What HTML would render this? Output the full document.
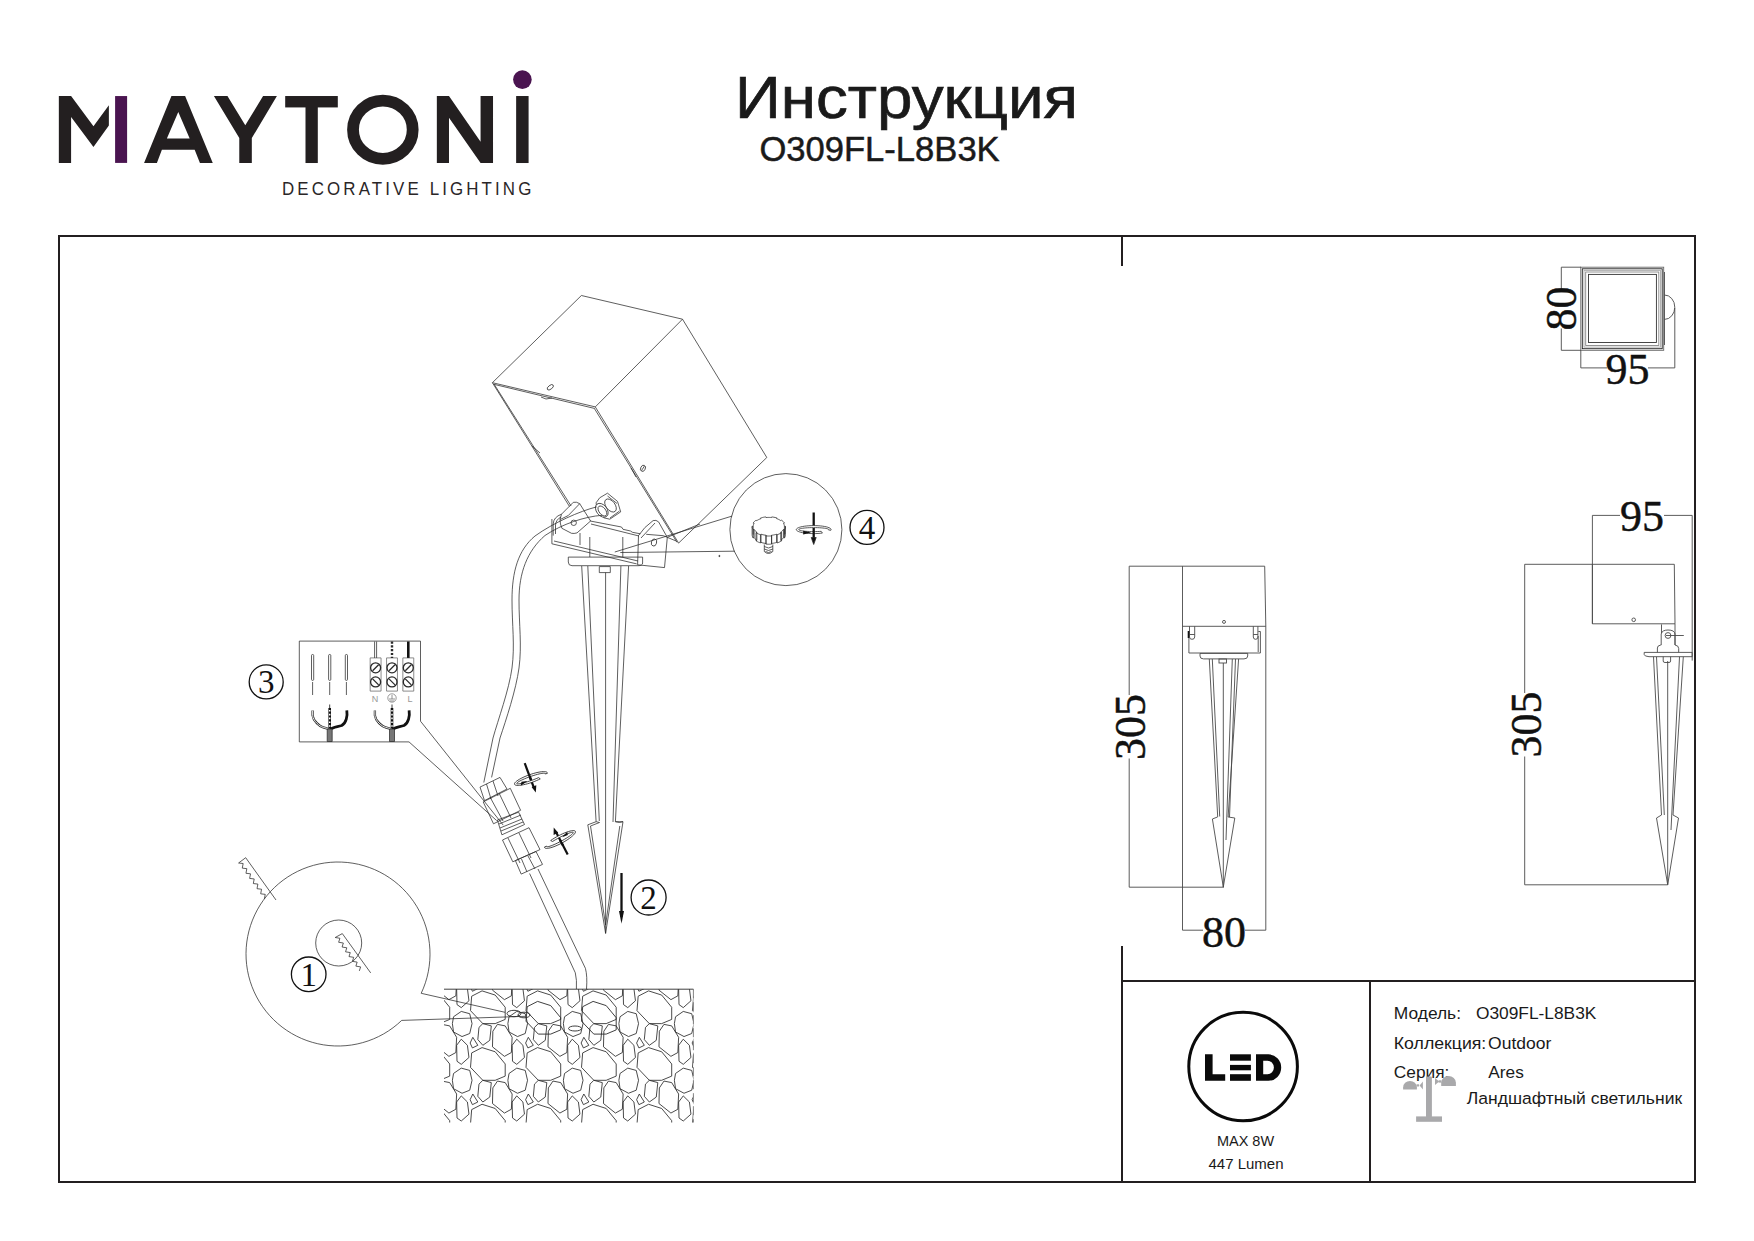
<!DOCTYPE html>
<html><head><meta charset="utf-8">
<style>
html,body{margin:0;padding:0;background:#fff;}
body{width:1754px;height:1241px;overflow:hidden;position:relative;}
svg{position:absolute;left:0;top:0;display:block;}
.sans{font-family:"Liberation Sans",sans-serif;}
.serif{font-family:"Liberation Serif",serif;}
</style></head>
<body>
<svg width="1754" height="1241" viewBox="0 0 1754 1241">
<g fill="#231f20">
<polygon points="58.84,96.06 71.09,96.06 93.47,126.28 108.87,105.32 108.87,125.56 93.47,146.94 71.09,117.01 71.09,162.91 58.84,162.91"/>
<path fill-rule="evenodd" d="M144.07,162.91 L171.44,96.06 L185.12,96.06 L212.77,162.91 L199.94,162.91 L194.67,149.79 L161.89,149.79 L156.90,162.91 Z M166.88,138.39 L178.28,112.02 L189.68,138.39 Z"/>
<polygon points="213.91,96.06 227.45,96.06 245.27,125.28 263.08,96.06 276.91,96.06 251.82,138.11 251.82,162.91 239.28,162.91 239.28,138.11"/>
<rect x="285.19" y="96.02" width="52.62" height="11.41"/>
<rect x="305.5" y="107" width="12.3" height="56.02"/>
<polygon points="436.84,96.02 448.99,96.02 480.57,141.83 480.57,96.02 493.02,96.02 493.02,163.02 480.57,163.02 448.99,117.81 448.99,163.02 436.84,163.02"/>
<rect x="516.14" y="96.02" width="12.45" height="67"/>
</g>
<ellipse cx="382.85" cy="129.7" rx="29.83" ry="29.1" fill="none" stroke="#231f20" stroke-width="11.8"/>
<rect x="115.1" y="96.06" width="12" height="66.85" fill="#4a1450"/>
<circle cx="522.4" cy="79.6" r="9.3" fill="#4a1450"/>
<text class="sans" transform="translate(282 194.6) scale(0.92 1)" x="0" y="0" font-size="18.4" textLength="271" lengthAdjust="spacing" fill="#2a2627">DECORATIVE LIGHTING</text>
<text class="sans" x="735" y="118" font-size="59.5" textLength="343" lengthAdjust="spacingAndGlyphs" fill="#1a1a1a" stroke="#1a1a1a" stroke-width="0.7">Инструкция</text>
<text class="sans" x="759.4" y="160.6" font-size="34.6" textLength="240.3" lengthAdjust="spacingAndGlyphs" fill="#1a1a1a" stroke="#1a1a1a" stroke-width="0.5">O309FL-L8B3K</text>
<g fill="#231f20">
<rect x="58" y="235" width="1638" height="2"/>
<rect x="58" y="1181" width="1638" height="2"/>
<rect x="58" y="235" width="2" height="948"/>
<rect x="1694" y="235" width="2" height="948"/>
<rect x="1121" y="237" width="2" height="29"/>
<rect x="1121" y="946" width="2" height="237"/>
<rect x="1121" y="980" width="575" height="2"/>
<rect x="1369" y="982" width="2" height="201"/>
</g>
<circle cx="1243.1" cy="1066.5" r="54.3" fill="none" stroke="#0a0a0a" stroke-width="3"/>
<g fill="#0a0a0a">
<polygon points="1205,1054.3 1212.6,1054.3 1212.6,1074.2 1225.2,1074.2 1225.2,1080.8 1205,1080.8"/>
<rect x="1230" y="1054.3" width="20.9" height="6.4"/>
<rect x="1230" y="1064.9" width="20.9" height="5.4"/>
<rect x="1230" y="1074.2" width="20.9" height="6.6"/>
<path fill-rule="evenodd" d="M1256,1054.3 H1268.5 A12.7,13.25 0 0 1 1281.2,1067.55 A12.7,13.25 0 0 1 1268.5,1080.8 H1256 Z M1263.2,1060.7 V1074.2 H1267.5 A6.4,6.75 0 0 0 1273.9,1067.45 A6.4,6.75 0 0 0 1267.5,1060.7 Z"/>
</g>
<text class="sans" x="1245.5" y="1146.1" font-size="14.5" text-anchor="middle" fill="#1a1a1a">MAX 8W</text>
<text class="sans" x="1246" y="1169.1" font-size="15" text-anchor="middle" fill="#1a1a1a">447 Lumen</text>
<g class="sans" font-size="16.3" fill="#1a1a1a" lengthAdjust="spacingAndGlyphs">
<text x="1393.8" y="1019.2" textLength="67.2" lengthAdjust="spacingAndGlyphs">Модель:</text>
<text x="1475.9" y="1019.2" textLength="120.5" lengthAdjust="spacingAndGlyphs">O309FL-L8B3K</text>
<text x="1393.8" y="1049.3" textLength="92.5" lengthAdjust="spacingAndGlyphs">Коллекция:</text>
<text x="1488.1" y="1049.3" textLength="63.2" lengthAdjust="spacingAndGlyphs">Outdoor</text>
<text x="1393.8" y="1077.6" textLength="55.5" lengthAdjust="spacingAndGlyphs">Серия:</text>
<text x="1488.3" y="1077.6" textLength="35.5" lengthAdjust="spacingAndGlyphs">Ares</text>
<text x="1466.8" y="1104" textLength="215.3" lengthAdjust="spacingAndGlyphs">Ландшафтный светильник</text>
</g>
<g fill="#a9a9ab">
<rect x="1426" y="1076.4" width="5.9" height="41" rx="0.8"/>
<rect x="1416.1" y="1116.4" width="25.9" height="5.4"/>
<path d="M1403.1,1089.6 V1087.5 A6.9,6.6 0 0 1 1416.9,1087.5 V1089.6 Z"/>
<rect x="1416.5" y="1084.3" width="2.6" height="2.2"/>
<polygon points="1419.6,1085.6 1422.9,1081.4 1422.9,1089.6"/>
<path d="M1441.2,1085.9 V1082.5 A7.35,6.5 0 0 1 1455.9,1082.5 V1085.9 Z"/>
<rect x="1438.6" y="1080.3" width="2.8" height="2.3"/>
<polygon points="1435,1078 1439.2,1081.4 1435,1085.1"/>
</g>
<g fill="none" stroke="#4a4a4a" stroke-width="0.9">
<rect x="1580.8" y="267.2" width="82.9" height="83.1" stroke="#666"/>
<rect x="1582.3" y="268.8" width="79.9" height="79.9" stroke="#222"/>
<rect x="1584" y="270.4" width="76.5" height="76.7" stroke="#aaa"/>
<rect x="1585.7" y="272" width="73.1" height="73.5" stroke="#888"/>
<rect x="1588.5" y="274.4" width="67.9" height="68.1" stroke="#333"/>
<path d="M1664.5,272 V345"/>
<path d="M1664.5,295 A10.3,12.2 0 0 1 1664.5,319.4"/>
<path d="M1581,267.2 H1561.3 V289 M1561.3,328.5 V350.3 H1581"/>
<path d="M1580.8,350.3 V367.9 H1607 M1648,367.9 H1674.8 V308"/>
</g>
<text class="serif" x="1576" y="308.6" font-size="44" text-anchor="middle" fill="#111" stroke="#111" stroke-width="0.45" transform="rotate(-90 1576 308.6)">80</text>
<text class="serif" x="1627.5" y="383.7" font-size="44" text-anchor="middle" fill="#111" stroke="#111" stroke-width="0.45">95</text>
<g fill="none" stroke="#4a4a4a" stroke-width="0.9">
<path d="M1129.2,566.2 H1264.7 M1129.2,566.2 V695 M1129.2,758.5 V887.2 H1224"/>
<path d="M1182.5,566.2 V930.2 H1203 M1245,930.2 H1265.8 V626 L1264.7,566.2"/>
<path d="M1182.5,626.3 H1265.8"/>
<circle cx="1224" cy="621.9" r="1.5"/>
<path d="M1188.9,631 V653 H1260.4 V631.5 M1258.2,636 V652"/>
<path d="M1189.5,626.3 V637 Q1189.5,639.3 1192,639.3 Q1194.7,639.3 1194.7,637 V626.3 M1189.5,634.5 H1194.7 M1253.3,626.3 V637 Q1253.3,639.3 1255.6,639.3 Q1257.9,639.3 1257.9,637 V626.3 M1253.3,634.5 H1257.9 M1258.3,631.5 H1260.4"/>
<path d="M1188.5,631 V638" stroke="#111" stroke-width="1.6"/>
<path d="M1200,653.4 H1247.7 V656 Q1247.7,658.9 1244,658.9 H1203.5 Q1200,658.9 1200,656 Z"/>
<rect x="1219" y="659" width="7.5" height="4"/>
<path d="M1209.3,659 L1217.7,816.9 L1212.4,819 L1223.3,887 L1234.8,818 L1228.1,817 L1238.6,659"/>
<path d="M1212.3,659 L1219.7,816.5 M1232.3,659 L1226,840 M1235.5,659 L1229.5,817 M1223.3,663 V887"/>
</g>
<text class="serif" x="1224" y="946.7" font-size="44" text-anchor="middle" fill="#111" stroke="#111" stroke-width="0.45">80</text>
<text class="serif" x="1144.6" y="726.9" font-size="44" text-anchor="middle" fill="#111" stroke="#111" stroke-width="0.45" transform="rotate(-90 1144.6 726.9)">305</text>
<g fill="none" stroke="#4a4a4a" stroke-width="0.9">
<path d="M1592.4,623.8 V515.4 H1620 M1664,515.4 H1692.2 V660.6"/>
<path d="M1524.7,564.3 H1674.3 L1675,623.8 H1592.4 V564.3"/>
<circle cx="1633.7" cy="619.8" r="1.8"/>
<path d="M1661.5,624.4 V633 M1675,623.8 V645"/>
<path d="M1657.4,652.4 V648 Q1657.4,645.5 1660.5,645.1 L1661.2,645 V634 Q1662,630 1668,630 Q1674.5,630 1675,634 V645 Q1678.7,645.5 1678.7,648.5 V652.4"/>
<circle cx="1668" cy="635.5" r="2.9"/>
<path d="M1666,635.5 H1683.8"/>
<path d="M1644.2,652.4 H1692.2 V656.7 H1649 Q1644.2,656.3 1644.2,654.5 Z"/>
<path d="M1663.2,656.7 V661 Q1663.2,662.5 1665,662.5 H1669 Q1670.6,662.5 1670.6,661 V656.7"/>
<path d="M1653.5,656.8 L1661.5,815 L1656.5,818 L1667.7,884.8 L1678.5,818 L1673,815 L1683.3,656.8"/>
<path d="M1656.5,656.8 L1664.3,815 M1679.5,656.8 L1671,830 M1667.7,661 V884.8"/>
<path d="M1524.7,564.3 V693 M1524.7,756.5 V884.8 H1667.7"/>
</g>
<text class="serif" x="1642" y="531.3" font-size="44" text-anchor="middle" fill="#111" stroke="#111" stroke-width="0.45">95</text>
<text class="serif" x="1541.2" y="724.6" font-size="44" text-anchor="middle" fill="#111" stroke="#111" stroke-width="0.45" transform="rotate(-90 1541.2 724.6)">305</text>
<g fill="none" stroke="#2a2a2a" stroke-width="0.75" stroke-linejoin="round">
<path d="M492.4,382.7 L581.4,295.5 L682.5,319.2 L766.8,457.5 L678.6,543.1"/>
<path d="M682.5,319.2 L595.3,406.9"/>
<path d="M492.4,382.7 L595.3,406.9"/>
<path d="M493.9,384.3 L594.8,408.5"/>
<path d="M595.3,406.9 L678.6,543.1"/>
<path d="M492.4,382.7 L569.5,506.5"/>
<path d="M494.2,384.3 L571.1,506"/>
<path d="M594.5,408.7 L677,542.3"/>
<ellipse cx="550.3" cy="387.3" rx="3.6" ry="1.9" transform="rotate(-38 550.3 387.3)"/>
<ellipse cx="643" cy="468.3" rx="2.3" ry="3.2" transform="rotate(25 643 468.3)"/><path d="M641.5,470.5 L644.5,466"/>
<path d="M541,397 L546,399 L552,398 M532,446 L540,453 M631,468 L636,477"/>
<path d="M561.5,514.2 L573.3,502.3 Q576.5,501.5 579.7,503.7 L590.6,521 L577,532.9 Q574,533.8 571.5,533.3 L561.9,528.3 Q560,524 560,519.6 Z"/>
<path d="M568.3,515.5 L579.7,503.7 M560,519.6 L568.3,515.5"/>
<path d="M553.2,535.6 V524 Q553.5,517 561.5,514.2 M555.5,534 V525 Q556,519.5 561,517"/>
<circle cx="573.7" cy="522.8" r="2.7"/>
<path d="M590.2,521 L621.5,527 L623,529.3 L630.5,531 L632.5,532.3 L640.4,533.8 M591,524 L639,536 M646.2,534.3 L663.3,535.7 L676.4,541.1"/>
<path d="M551.9,519 V543.8 L636.7,563.9 M554,541 L638,561"/>
<path d="M580,533 V545 M589.8,537 V557 M622.8,537 V557"/>
<path d="M653.1,520.6 Q656,519.5 658.6,521.9 L667.3,537.4 L664.5,567.6 L637.6,564.8 L638.5,535.6 Q644,527 653.1,520.6 Z"/>
<path d="M641,538 L655,523"/>
<ellipse cx="654" cy="542.5" rx="2.6" ry="3.6" transform="rotate(15 654 542.5)"/>
<path d="M568.3,557.1 H642.6 V563 Q642.6,565.7 638,565.7 H572 Q568.3,565.7 568.3,562 Z"/>
<rect x="599.3" y="566.6" width="11" height="6"/>
<path d="M668,537 L700,524"/>
<path d="M596.1,502.8 L599.7,497.8 L607.5,493.2 L617.5,501.4 L620.7,511.9 L609.8,519.2 L603.8,517.8 L597,509.6 Z" fill="#fff"/>
<ellipse cx="610.5" cy="505.5" rx="4.5" ry="7.5" transform="rotate(-38 610.5 505.5)"/>
<ellipse cx="601.8" cy="510.3" rx="5.3" ry="7.8" transform="rotate(-38 601.8 510.3)" fill="#fff"/>
<ellipse cx="602.4" cy="511" rx="3.3" ry="5.8" transform="rotate(-38 602.4 511)"/>
<path d="M607.5,496 L617,503.5 M610,518 L619.5,511"/>
<path d="M596.6,506.9 C580,511 553,523 535,536 C518,550 512,572 512,600 C512,625 515,645 512,668 C509,690 498,720 493,738 L483.8,782.5"/>
<path d="M602,515.3 C585,516.5 562,524 545,535.5 C527,551 519,573 519,600 C519,625 522,645 519,668 C516,690 506,720 500,738 L491.6,777.4"/>
<path d="M614.8,552 L732,516.1 M620.3,552.5 L734.8,551.2"/>
<circle cx="719.4" cy="556" r="0.6" fill="#333"/>
<circle cx="785.9" cy="529.6" r="56"/>
<path d="M785.49,526.4 L785.45,527.07 L785.33,527.74 L785.13,528.4 L784.85,529.05 L784.49,529.69 L783.46,529.48 L783.05,530.06 L782.57,530.63 L782.03,531.17 L781.42,531.69 L780.75,532.19 L781.59,532.59 L780.81,533.09 L779.97,533.56 L779.08,533.99 L778.13,534.38 L777.15,534.74 L776.6,534.19 L775.64,534.49 L774.64,534.74 L773.62,534.96 L772.57,535.13 L771.51,535.26 L771.7,535.88 L770.54,535.98 L769.38,536.02 L768.22,536.02 L767.06,535.98 L765.9,535.88 L766.09,535.26 L765.03,535.13 L763.98,534.96 L762.96,534.74 L761.96,534.49 L761,534.19 L760.45,534.74 L759.47,534.38 L758.52,533.99 L757.63,533.56 L756.79,533.09 L756.01,532.59 L756.85,532.19 L756.18,531.69 L755.57,531.17 L755.03,530.63 L754.55,530.06 L754.14,529.48 L753.11,529.69 L752.75,529.05 L752.47,528.4 L752.27,527.74 L752.15,527.07 L752.11,526.4 L753.2,526.4 L753.24,525.77 L753.35,525.15 L753.54,524.53 L753.8,523.92 L754.14,523.32 L753.11,523.11 L753.55,522.48 L754.06,521.88 L754.64,521.3 L755.3,520.74 L756.01,520.21 L756.85,520.61 L757.58,520.15 L758.36,519.71 L759.2,519.31 L760.08,518.94 L761,518.61 L760.45,518.06 L761.48,517.74 L762.55,517.47 L763.64,517.24 L764.76,517.06 L765.9,516.92 L766.09,517.54 L767.17,517.45 L768.26,517.41 L769.34,517.41 L770.43,517.45 L771.51,517.54 L771.7,516.92 L772.84,517.06 L773.96,517.24 L775.05,517.47 L776.12,517.74 L777.15,518.06 L776.6,518.61 L777.52,518.94 L778.4,519.31 L779.24,519.71 L780.02,520.15 L780.75,520.61 L781.59,520.21 L782.3,520.74 L782.96,521.3 L783.54,521.88 L784.05,522.48 L784.49,523.11 L783.46,523.32 L783.8,523.92 L784.06,524.53 L784.25,525.15 L784.36,525.77 L784.4,526.4Z" fill="#fff"/><path d="M785.49,534.6 L785.45,535.27 L785.33,535.94 L785.13,536.6 L784.85,537.25 L784.49,537.89 L783.46,537.68 L783.05,538.26 L782.57,538.83 L782.03,539.37 L781.42,539.89 L780.75,540.39 L781.59,540.79 L780.81,541.29 L779.97,541.76 L779.08,542.19 L778.13,542.58 L777.15,542.94 L776.6,542.39 L775.64,542.69 L774.64,542.94 L773.62,543.16 L772.57,543.33 L771.51,543.46 L771.7,544.08 L770.54,544.18 L769.38,544.22 L768.22,544.22 L767.06,544.18 L765.9,544.08 L766.09,543.46 L765.03,543.33 L763.98,543.16 L762.96,542.94 L761.96,542.69 L761,542.39 L760.45,542.94 L759.47,542.58 L758.52,542.19 L757.63,541.76 L756.79,541.29 L756.01,540.79 L756.85,540.39 L756.18,539.89 L755.57,539.37 L755.03,538.83 L754.55,538.26 L754.14,537.68 L753.11,537.89 L752.75,537.25 L752.47,536.6 L752.27,535.94 L752.15,535.27 L752.11,534.6"/><path d="M784.4,526.4 V534.6 M785.49,526.4 V534.6 M783.46,529.48 V537.68 M784.49,529.69 V537.89 M780.75,532.19 V540.39 M781.59,532.59 V540.79 M776.6,534.19 V542.39 M777.15,534.74 V542.94 M771.51,535.26 V543.46 M771.7,535.88 V544.08 M766.09,535.26 V543.46 M765.9,535.88 V544.08 M761,534.19 V542.39 M760.45,534.74 V542.94 M756.85,532.19 V540.39 M756.01,532.59 V540.79 M754.14,529.48 V537.68 M753.11,529.69 V537.89 M753.2,526.4 V534.6 M752.11,526.4 V534.6"/>
<path d="M764.3,544.5 V551.5 Q768.5,555.5 772.8,551.5 V544.5 M764.3,546.5 Q768.5,549.5 772.8,546.5 M764.3,549 Q768.5,552 772.8,549 M765.5,551.5 Q768.5,553.5 771.5,551.5"/>
<path d="M813.7,512.5 V527" stroke="#111" stroke-width="2.3"/>
</g>
<g fill="none" stroke="#2a2a2a" stroke-width="0.75" stroke-linejoin="round">
</g>
<circle cx="867" cy="527.4" r="17" fill="none" stroke="#111" stroke-width="1.3"/><text class="serif" x="867" y="538.62" font-size="33" text-anchor="middle" fill="#111">4</text>
<circle cx="648.6" cy="897.5" r="17.5" fill="none" stroke="#111" stroke-width="1.3"/><text class="serif" x="648.6" y="908.72" font-size="33" text-anchor="middle" fill="#111">2</text>
<circle cx="266.2" cy="681.9" r="17" fill="none" stroke="#111" stroke-width="1.3"/><text class="serif" x="266.2" y="693.12" font-size="33" text-anchor="middle" fill="#111">3</text>
<circle cx="308.7" cy="974.3" r="17.3" fill="none" stroke="#111" stroke-width="1.3"/><text class="serif" x="308.7" y="985.52" font-size="33" text-anchor="middle" fill="#111">1</text>
<g fill="none" stroke="#2a2a2a" stroke-width="0.75" stroke-linejoin="round">
<path d="M581.7,566 L596.1,821.7 L587.8,824.8 L605.6,933.4 L623,821.7 L615.4,821.7 L628.6,566"/>
<path d="M587.8,566 L599.3,821 M620.9,566 L613,822 M590.5,826 L605.6,925 M619.8,826 L605.6,925 M596.1,821.7 L599.5,822.5 L590.5,826 M615.4,821.7 L619.5,822.5 L623,821.7"/>
<path d="M605.6,572.6 V933.4"/>
</g>
<path d="M621.5,873 V917" stroke="#111" stroke-width="2.3" fill="none"/>
<polygon points="619,911 624,911 621.5,923.7" fill="#111"/>
<g fill="none" stroke="#2a2a2a" stroke-width="0.75" stroke-linejoin="round">
<path d="M480,787.1 L500,777.4 L507,789 L484.5,800.6 Z"/>
<path d="M483.2,801.9 L510.3,788.3 L520.6,810.3 L493.5,823.8 Z"/>
<path d="M497.4,820 L518.6,812.2 L524.5,824.5 L501.9,834.8 Z"/>
<path d="M502.5,840 L529,827.7 L540,849.6 L512.8,861.8 Z"/>
<path d="M515.4,860.6 L536,851.5 L542.5,864.4 L521.2,874.1 Z"/>
<path d="M486.5,784 L491,799 M493,781 L498,796 M490,797 L503,821 M499,793 L511,818 M499,824 L521,815 M500,828 L522,819 M501,831 L523,822 M508,838 L520,863 M519,833 L531,858 M521.5,859 L527,872 M528,856 L535,869"/>
<path d="M529.6,873.5 L575.3,972.8 Q577,980 576.4,989"/>
<path d="M538,869 L585.4,968.3 Q587.5,976 586.5,989"/>
<path d="M524.7,763.1 L534,788" stroke="#111" stroke-width="2.2"/>
<g transform="translate(530.9 778.5) rotate(-19.4)"><path d="M8.7,3.46 L6.59,3.7 L4.36,3.87 L2.05,3.97 L-0.3,4 L-2.65,3.95 L-4.94,3.84 L-7.15,3.65 L-9.22,3.39 L-11.13,3.08 L-12.83,2.7 L-14.3,2.28 L-15.5,1.82 L-16.43,1.32 L-17.05,0.8 L-17.36,0.26 L-17.36,-0.28 L-17.04,-0.81 L-16.4,-1.34 L-15.47,-1.83 L-14.25,-2.29 L-12.78,-2.72 L-11.07,-3.09 L-9.16,-3.4 L-7.08,-3.65 L-4.87,-3.84 L-2.57,-3.96 L-0.23,-4 L2.12,-3.97 L4.43,-3.87 L6.66,-3.7 L8.77,-3.46 L10.71,-3.15 L12.46,-2.79 L13.99,-2.38 L15.26,-1.92 L16.24,-1.43 L16.94,-0.92 L17.32,-0.38 L17.39,0.16 L17.14,0.69 L14.77,0.35 L14.99,0.08 L14.93,-0.19 L14.6,-0.46 L14,-0.72 L13.15,-0.96 L12.06,-1.19 L10.74,-1.4 L9.23,-1.58 L7.56,-1.73 L5.74,-1.85 L3.82,-1.93 L1.83,-1.99 L-0.2,-2 L-2.22,-1.98 L-4.2,-1.92 L-6.1,-1.83 L-7.89,-1.7 L-9.54,-1.54 L-11.01,-1.36 L-12.29,-1.15 L-13.34,-0.92 L-14.14,-0.67 L-14.69,-0.41 L-14.96,-0.14 L-14.97,0.13 L-14.7,0.4 L-14.16,0.66 L-13.37,0.91 L-12.32,1.14 L-11.06,1.35 L-9.59,1.54 L-7.95,1.7 L-6.16,1.82 L-4.26,1.92 L-2.28,1.98 L-0.26,2 L1.76,1.99 L3.76,1.94 L5.68,1.85 L7.5,1.73Z" fill="#fff" stroke="#222" stroke-width="0.75"/><polygon points="-12,3.5 -4,1.2 -10,0" fill="#111" stroke="none"/></g>
<path d="M529,774.5 L531,780" stroke="#111" stroke-width="2.2"/>
<polygon points="531.6,787 536.3,785.3 535.8,792.6" fill="#111" stroke="none"/>
<path d="M567.7,854.4 L556,832" stroke="#111" stroke-width="2.2"/>
<g transform="translate(560 839.5) rotate(-28)"><path d="M-8.7,-3.46 L-6.59,-3.7 L-4.36,-3.87 L-2.05,-3.97 L0.3,-4 L2.65,-3.95 L4.94,-3.84 L7.15,-3.65 L9.22,-3.39 L11.13,-3.08 L12.83,-2.7 L14.3,-2.28 L15.5,-1.82 L16.43,-1.32 L17.05,-0.8 L17.36,-0.26 L17.36,0.28 L17.04,0.81 L16.4,1.34 L15.47,1.83 L14.25,2.29 L12.78,2.72 L11.07,3.09 L9.16,3.4 L7.08,3.65 L4.87,3.84 L2.57,3.96 L0.23,4 L-2.12,3.97 L-4.43,3.87 L-6.66,3.7 L-8.77,3.46 L-10.71,3.15 L-12.46,2.79 L-13.99,2.38 L-15.26,1.92 L-16.24,1.43 L-16.94,0.92 L-17.32,0.38 L-17.39,-0.16 L-17.14,-0.69 L-14.77,-0.35 L-14.99,-0.08 L-14.93,0.19 L-14.6,0.46 L-14,0.72 L-13.15,0.96 L-12.06,1.19 L-10.74,1.4 L-9.23,1.58 L-7.56,1.73 L-5.74,1.85 L-3.82,1.93 L-1.83,1.99 L0.2,2 L2.22,1.98 L4.2,1.92 L6.1,1.83 L7.89,1.7 L9.54,1.54 L11.01,1.36 L12.29,1.15 L13.34,0.92 L14.14,0.67 L14.69,0.41 L14.96,0.14 L14.97,-0.13 L14.7,-0.4 L14.16,-0.66 L13.37,-0.91 L12.32,-1.14 L11.06,-1.35 L9.59,-1.54 L7.95,-1.7 L6.16,-1.82 L4.26,-1.92 L2.28,-1.98 L0.26,-2 L-1.76,-1.99 L-3.76,-1.94 L-5.68,-1.85 L-7.5,-1.73Z" fill="#fff" stroke="#222" stroke-width="0.75"/><polygon points="10,-3.6 3,-1 9,-0.2" fill="#111" stroke="none"/></g>
<path d="M560,840 L563,845.5" stroke="#111" stroke-width="2.2"/>
<polygon points="553.7,827.4 553.6,835 558.2,832.8" fill="#111" stroke="none"/>
<g transform="translate(813.7 529.6) rotate(0)"><path d="M8.7,3.46 L6.59,3.7 L4.36,3.87 L2.05,3.97 L-0.3,4 L-2.65,3.95 L-4.94,3.84 L-7.15,3.65 L-9.22,3.39 L-11.13,3.08 L-12.83,2.7 L-14.3,2.28 L-15.5,1.82 L-16.43,1.32 L-17.05,0.8 L-17.36,0.26 L-17.36,-0.28 L-17.04,-0.81 L-16.4,-1.34 L-15.47,-1.83 L-14.25,-2.29 L-12.78,-2.72 L-11.07,-3.09 L-9.16,-3.4 L-7.08,-3.65 L-4.87,-3.84 L-2.57,-3.96 L-0.23,-4 L2.12,-3.97 L4.43,-3.87 L6.66,-3.7 L8.77,-3.46 L10.71,-3.15 L12.46,-2.79 L13.99,-2.38 L15.26,-1.92 L16.24,-1.43 L16.94,-0.92 L17.32,-0.38 L17.39,0.16 L17.14,0.69 L14.77,0.35 L14.99,0.08 L14.93,-0.19 L14.6,-0.46 L14,-0.72 L13.15,-0.96 L12.06,-1.19 L10.74,-1.4 L9.23,-1.58 L7.56,-1.73 L5.74,-1.85 L3.82,-1.93 L1.83,-1.99 L-0.2,-2 L-2.22,-1.98 L-4.2,-1.92 L-6.1,-1.83 L-7.89,-1.7 L-9.54,-1.54 L-11.01,-1.36 L-12.29,-1.15 L-13.34,-0.92 L-14.14,-0.67 L-14.69,-0.41 L-14.96,-0.14 L-14.97,0.13 L-14.7,0.4 L-14.16,0.66 L-13.37,0.91 L-12.32,1.14 L-11.06,1.35 L-9.59,1.54 L-7.95,1.7 L-6.16,1.82 L-4.26,1.92 L-2.28,1.98 L-0.26,2 L1.76,1.99 L3.76,1.94 L5.68,1.85 L7.5,1.73Z" fill="#fff" stroke="#222" stroke-width="0.75"/><polygon points="-10.5,1.2 -10.5,4.8 -2.5,3" fill="#111" stroke="none"/></g>
<path d="M813.7,528 V539" stroke="#111" stroke-width="2.3"/><polygon points="811.2,537.5 816.2,537.5 813.7,544.5" fill="#111"/>
<path d="M299.3,641.1 H420.5 V721.2 L503.2,825.1 M299.3,641.1 V741.9 H409 L496.7,820.6"/>
<rect x="311.5" y="654.5" width="2.2" height="25.9" rx="1"/>
<path d="M312.6,682 V695"/>
<rect x="328.6" y="654.5" width="2.2" height="25.9" rx="1"/>
<path d="M329.7,682 V695"/>
<rect x="345.3" y="654.5" width="2.2" height="25.9" rx="1"/>
<path d="M346.4,682 V695"/>
<path d="M312.6,710.4 V715.5 C313.2,721 319.7,726.5 323.2,727.3 C325.7,728 327.2,728.5 328.7,729" stroke-width="2.3"/><path d="M312.6,710.6 V715.5 C313.2,721 319.7,726.5 323.2,727.3 C325.7,728 327.2,728.5 328.7,729" stroke="#fff" stroke-width="0.9"/><path d="M329.7,704.5 V708.5" stroke-width="0.9"/><path d="M329.7,708 V728.5" stroke="#111" stroke-width="2.6"/><path d="M329.7,710 V728.5" stroke="#fff" stroke-width="1.5" stroke-dasharray="1.6,2.2"/><path d="M346.8,710.4 C347.7,716 346.2,723 341.7,725.5 C336.7,727 332.7,727 330.2,729.5" stroke="#111" stroke-width="2.8"/><rect x="327.2" y="729" width="5" height="12.5" fill="#777" stroke="#222" stroke-width="0.7"/>
<path d="M374.9,710.4 V715.5 C375.5,721 382,726.5 385.5,727.3 C388,728 389.5,728.5 391,729" stroke-width="2.3"/><path d="M374.9,710.6 V715.5 C375.5,721 382,726.5 385.5,727.3 C388,728 389.5,728.5 391,729" stroke="#fff" stroke-width="0.9"/><path d="M392,704.5 V708.5" stroke-width="0.9"/><path d="M392,708 V728.5" stroke="#111" stroke-width="2.6"/><path d="M392,710 V728.5" stroke="#fff" stroke-width="1.5" stroke-dasharray="1.6,2.2"/><path d="M409.1,710.4 C410,716 408.5,723 404,725.5 C399,727 395,727 392.5,729.5" stroke="#111" stroke-width="2.8"/><rect x="389.5" y="729" width="5" height="12.5" fill="#777" stroke="#222" stroke-width="0.7"/>
<rect x="370.15" y="657.9" width="10.9" height="33.2" stroke="#666"/>
<circle cx="375.6" cy="667.8" r="5" stroke-width="1.3"/>
<path d="M372.6,670.8 L378.6,664.8" stroke-width="1.3"/>
<circle cx="375.6" cy="681.9" r="5" stroke-width="1.3"/>
<path d="M372.6,678.9 L378.6,684.9" stroke-width="1.3"/>
<rect x="386.55" y="657.9" width="10.9" height="33.2" stroke="#666"/>
<circle cx="392" cy="667.8" r="5" stroke-width="1.3"/>
<path d="M389,670.8 L395,664.8" stroke-width="1.3"/>
<circle cx="392" cy="681.9" r="5" stroke-width="1.3"/>
<path d="M389,678.9 L395,684.9" stroke-width="1.3"/>
<rect x="402.85" y="657.9" width="10.9" height="33.2" stroke="#666"/>
<circle cx="408.3" cy="667.8" r="5" stroke-width="1.3"/>
<path d="M405.3,670.8 L411.3,664.8" stroke-width="1.3"/>
<circle cx="408.3" cy="681.9" r="5" stroke-width="1.3"/>
<path d="M405.3,678.9 L411.3,684.9" stroke-width="1.3"/>
<path d="M374.6,641.5 V657.9 M376.6,641.5 V657.9"/>
<path d="M392,641.5 V657.9" stroke-width="2.4" stroke-dasharray="2.2,1.6"/>
<path d="M408.3,641.5 V657.9" stroke="#111" stroke-width="2.6"/>
<circle cx="392" cy="698" r="4.2" stroke="#777"/>
<path d="M392,695 V699 M389,699 H395 M390,701 H394" stroke="#777" stroke-width="0.8"/>
</g>
<text class="sans" x="375" y="701.5" font-size="9" text-anchor="middle" fill="#999">N</text>
<text class="sans" x="410" y="701.5" font-size="9" text-anchor="middle" fill="#999">L</text>
<g fill="none" stroke="#2a2a2a" stroke-width="0.75" stroke-linejoin="round">
<path d="M421.2,993.3 A92,92 0 1 0 401.7,1020.4"/>
<path d="M421.2,993.3 L505,1012.3 M401.7,1020.4 L525.8,1016.3"/>
<circle cx="338.7" cy="943" r="23"/>
<path d="M342.3,933.6 L370.7,972.9 M342.3,933.6 L335.2,937.5 M335.2,937.5 L339.9,938.25 L338.65,942.27 L343.35,943.02 L342.1,947.04 L346.8,947.79 L345.55,951.82 L350.25,952.57 L348.99,956.59 L353.7,957.34 L352.44,961.36 L357.15,962.11 L355.89,966.13 L360.6,966.88 L359.34,970.9"/>
<path d="M245.7,857.7 L276,900 M245.7,857.7 L238.6,863 M238.6,863 L243.16,863.53 L242.28,868.14 L246.84,868.67 L245.96,873.27 L250.52,873.81 L249.64,878.41 L254.2,878.94 L253.32,883.55 L257.88,884.08 L257,888.68 L261.56,889.22 L260.68,893.82 L265.24,894.35 L264.36,898.95"/>
</g>
<defs><clipPath id="gclip"><rect x="444" y="989.2" width="249.4" height="133.3"/></clipPath></defs>
<g clip-path="url(#gclip)" fill="none" stroke="#2a2a2a" stroke-width="0.85" stroke-linejoin="round">
<path d="M360.66,882.81 L371.06,877.48 L384.17,881.66 L394.19,893.85 L394.19,906.02 L384.17,910.21 L371.83,910.21 L359.5,897.27Z M361.82,867.2 L366.82,875.2 L361.42,877.85 L359.12,872.91Z M371.83,910.21 L380.31,912.5 L378.77,926.95 L371.83,931.91 L366.82,926.2 L367.98,914.02Z M381.85,917.82 L386.48,910.97 L394.19,912.5 L401.13,923.91 L400.35,939.14 L393.41,942.95 L381.47,933.43Z M398.04,903.36 L405.75,898.03 L414.23,900.31 L416.54,910.21 L414.23,920.11 L406.52,923.15 L398.04,918.59 L396.89,910.21Z M405.75,869.1 L411.92,875.2 L413.46,887.37 L405.75,894.23 L401.51,891.18 L401.13,875.2Z M360.66,939.51 L371.06,934.18 L384.17,938.36 L394.19,950.55 L394.19,962.72 L384.17,966.91 L371.83,966.91 L359.5,953.97Z M361.82,923.9 L366.82,931.9 L361.42,934.55 L359.12,929.61Z M371.83,966.91 L380.31,969.2 L378.77,983.65 L371.83,988.61 L366.82,982.9 L367.98,970.72Z M381.85,974.52 L386.48,967.67 L394.19,969.2 L401.13,980.61 L400.35,995.84 L393.41,999.65 L381.47,990.13Z M398.04,960.06 L405.75,954.73 L414.23,957.01 L416.54,966.91 L414.23,976.81 L406.52,979.85 L398.04,975.29 L396.89,966.91Z M405.75,925.8 L411.92,931.9 L413.46,944.07 L405.75,950.93 L401.51,947.88 L401.13,931.9Z M360.66,996.21 L371.06,990.88 L384.17,995.06 L394.19,1007.25 L394.19,1019.42 L384.17,1023.61 L371.83,1023.61 L359.5,1010.67Z M361.82,980.6 L366.82,988.6 L361.42,991.25 L359.12,986.31Z M371.83,1023.61 L380.31,1025.9 L378.77,1040.35 L371.83,1045.31 L366.82,1039.6 L367.98,1027.42Z M381.85,1031.22 L386.48,1024.37 L394.19,1025.9 L401.13,1037.31 L400.35,1052.54 L393.41,1056.35 L381.47,1046.83Z M398.04,1016.76 L405.75,1011.43 L414.23,1013.71 L416.54,1023.61 L414.23,1033.51 L406.52,1036.55 L398.04,1031.99 L396.89,1023.61Z M405.75,982.5 L411.92,988.6 L413.46,1000.77 L405.75,1007.63 L401.51,1004.58 L401.13,988.6Z M360.66,1052.91 L371.06,1047.58 L384.17,1051.76 L394.19,1063.95 L394.19,1076.12 L384.17,1080.31 L371.83,1080.31 L359.5,1067.37Z M361.82,1037.3 L366.82,1045.3 L361.42,1047.95 L359.12,1043.01Z M371.83,1080.31 L380.31,1082.6 L378.77,1097.05 L371.83,1102.01 L366.82,1096.3 L367.98,1084.12Z M381.85,1087.92 L386.48,1081.07 L394.19,1082.6 L401.13,1094.01 L400.35,1109.24 L393.41,1113.05 L381.47,1103.53Z M398.04,1073.46 L405.75,1068.13 L414.23,1070.41 L416.54,1080.31 L414.23,1090.21 L406.52,1093.25 L398.04,1088.69 L396.89,1080.31Z M405.75,1039.2 L411.92,1045.3 L413.46,1057.47 L405.75,1064.33 L401.51,1061.28 L401.13,1045.3Z M360.66,1109.61 L371.06,1104.28 L384.17,1108.46 L394.19,1120.65 L394.19,1132.82 L384.17,1137.01 L371.83,1137.01 L359.5,1124.07Z M361.82,1094 L366.82,1102 L361.42,1104.65 L359.12,1099.71Z M371.83,1137.01 L380.31,1139.3 L378.77,1153.75 L371.83,1158.71 L366.82,1153 L367.98,1140.82Z M381.85,1144.62 L386.48,1137.77 L394.19,1139.3 L401.13,1150.71 L400.35,1165.94 L393.41,1169.75 L381.47,1160.23Z M398.04,1130.16 L405.75,1124.83 L414.23,1127.11 L416.54,1137.01 L414.23,1146.91 L406.52,1149.95 L398.04,1145.39 L396.89,1137.01Z M405.75,1095.9 L411.92,1102 L413.46,1114.17 L405.75,1121.03 L401.51,1117.98 L401.13,1102Z M360.66,1166.31 L371.06,1160.98 L384.17,1165.16 L394.19,1177.35 L394.19,1189.52 L384.17,1193.71 L371.83,1193.71 L359.5,1180.77Z M361.82,1150.7 L366.82,1158.7 L361.42,1161.35 L359.12,1156.41Z M371.83,1193.71 L380.31,1196 L378.77,1210.45 L371.83,1215.41 L366.82,1209.7 L367.98,1197.52Z M381.85,1201.32 L386.48,1194.47 L394.19,1196 L401.13,1207.41 L400.35,1222.64 L393.41,1226.45 L381.47,1216.93Z M398.04,1186.86 L405.75,1181.53 L414.23,1183.81 L416.54,1193.71 L414.23,1203.61 L406.52,1206.65 L398.04,1202.09 L396.89,1193.71Z M405.75,1152.6 L411.92,1158.7 L413.46,1170.87 L405.75,1177.73 L401.51,1174.68 L401.13,1158.7Z M416.16,882.81 L426.56,877.48 L439.67,881.66 L449.69,893.85 L449.69,906.02 L439.67,910.21 L427.33,910.21 L415,897.27Z M417.32,867.2 L422.32,875.2 L416.92,877.85 L414.62,872.91Z M427.33,910.21 L435.81,912.5 L434.27,926.95 L427.33,931.91 L422.32,926.2 L423.48,914.02Z M437.35,917.82 L441.98,910.97 L449.69,912.5 L456.63,923.91 L455.85,939.14 L448.91,942.95 L436.97,933.43Z M453.54,903.36 L461.25,898.03 L469.73,900.31 L472.04,910.21 L469.73,920.11 L462.02,923.15 L453.54,918.59 L452.39,910.21Z M461.25,869.1 L467.42,875.2 L468.96,887.37 L461.25,894.23 L457.01,891.18 L456.63,875.2Z M416.16,939.51 L426.56,934.18 L439.67,938.36 L449.69,950.55 L449.69,962.72 L439.67,966.91 L427.33,966.91 L415,953.97Z M417.32,923.9 L422.32,931.9 L416.92,934.55 L414.62,929.61Z M427.33,966.91 L435.81,969.2 L434.27,983.65 L427.33,988.61 L422.32,982.9 L423.48,970.72Z M437.35,974.52 L441.98,967.67 L449.69,969.2 L456.63,980.61 L455.85,995.84 L448.91,999.65 L436.97,990.13Z M453.54,960.06 L461.25,954.73 L469.73,957.01 L472.04,966.91 L469.73,976.81 L462.02,979.85 L453.54,975.29 L452.39,966.91Z M461.25,925.8 L467.42,931.9 L468.96,944.07 L461.25,950.93 L457.01,947.88 L456.63,931.9Z M416.16,996.21 L426.56,990.88 L439.67,995.06 L449.69,1007.25 L449.69,1019.42 L439.67,1023.61 L427.33,1023.61 L415,1010.67Z M417.32,980.6 L422.32,988.6 L416.92,991.25 L414.62,986.31Z M427.33,1023.61 L435.81,1025.9 L434.27,1040.35 L427.33,1045.31 L422.32,1039.6 L423.48,1027.42Z M437.35,1031.22 L441.98,1024.37 L449.69,1025.9 L456.63,1037.31 L455.85,1052.54 L448.91,1056.35 L436.97,1046.83Z M453.54,1016.76 L461.25,1011.43 L469.73,1013.71 L472.04,1023.61 L469.73,1033.51 L462.02,1036.55 L453.54,1031.99 L452.39,1023.61Z M461.25,982.5 L467.42,988.6 L468.96,1000.77 L461.25,1007.63 L457.01,1004.58 L456.63,988.6Z M416.16,1052.91 L426.56,1047.58 L439.67,1051.76 L449.69,1063.95 L449.69,1076.12 L439.67,1080.31 L427.33,1080.31 L415,1067.37Z M417.32,1037.3 L422.32,1045.3 L416.92,1047.95 L414.62,1043.01Z M427.33,1080.31 L435.81,1082.6 L434.27,1097.05 L427.33,1102.01 L422.32,1096.3 L423.48,1084.12Z M437.35,1087.92 L441.98,1081.07 L449.69,1082.6 L456.63,1094.01 L455.85,1109.24 L448.91,1113.05 L436.97,1103.53Z M453.54,1073.46 L461.25,1068.13 L469.73,1070.41 L472.04,1080.31 L469.73,1090.21 L462.02,1093.25 L453.54,1088.69 L452.39,1080.31Z M461.25,1039.2 L467.42,1045.3 L468.96,1057.47 L461.25,1064.33 L457.01,1061.28 L456.63,1045.3Z M416.16,1109.61 L426.56,1104.28 L439.67,1108.46 L449.69,1120.65 L449.69,1132.82 L439.67,1137.01 L427.33,1137.01 L415,1124.07Z M417.32,1094 L422.32,1102 L416.92,1104.65 L414.62,1099.71Z M427.33,1137.01 L435.81,1139.3 L434.27,1153.75 L427.33,1158.71 L422.32,1153 L423.48,1140.82Z M437.35,1144.62 L441.98,1137.77 L449.69,1139.3 L456.63,1150.71 L455.85,1165.94 L448.91,1169.75 L436.97,1160.23Z M453.54,1130.16 L461.25,1124.83 L469.73,1127.11 L472.04,1137.01 L469.73,1146.91 L462.02,1149.95 L453.54,1145.39 L452.39,1137.01Z M461.25,1095.9 L467.42,1102 L468.96,1114.17 L461.25,1121.03 L457.01,1117.98 L456.63,1102Z M416.16,1166.31 L426.56,1160.98 L439.67,1165.16 L449.69,1177.35 L449.69,1189.52 L439.67,1193.71 L427.33,1193.71 L415,1180.77Z M417.32,1150.7 L422.32,1158.7 L416.92,1161.35 L414.62,1156.41Z M427.33,1193.71 L435.81,1196 L434.27,1210.45 L427.33,1215.41 L422.32,1209.7 L423.48,1197.52Z M437.35,1201.32 L441.98,1194.47 L449.69,1196 L456.63,1207.41 L455.85,1222.64 L448.91,1226.45 L436.97,1216.93Z M453.54,1186.86 L461.25,1181.53 L469.73,1183.81 L472.04,1193.71 L469.73,1203.61 L462.02,1206.65 L453.54,1202.09 L452.39,1193.71Z M461.25,1152.6 L467.42,1158.7 L468.96,1170.87 L461.25,1177.73 L457.01,1174.68 L456.63,1158.7Z M471.66,882.81 L482.06,877.48 L495.17,881.66 L505.19,893.85 L505.19,906.02 L495.17,910.21 L482.83,910.21 L470.5,897.27Z M472.82,867.2 L477.82,875.2 L472.42,877.85 L470.12,872.91Z M482.83,910.21 L491.31,912.5 L489.77,926.95 L482.83,931.91 L477.82,926.2 L478.98,914.02Z M492.85,917.82 L497.48,910.97 L505.19,912.5 L512.13,923.91 L511.35,939.14 L504.41,942.95 L492.47,933.43Z M509.04,903.36 L516.75,898.03 L525.23,900.31 L527.54,910.21 L525.23,920.11 L517.52,923.15 L509.04,918.59 L507.89,910.21Z M516.75,869.1 L522.92,875.2 L524.46,887.37 L516.75,894.23 L512.51,891.18 L512.13,875.2Z M471.66,939.51 L482.06,934.18 L495.17,938.36 L505.19,950.55 L505.19,962.72 L495.17,966.91 L482.83,966.91 L470.5,953.97Z M472.82,923.9 L477.82,931.9 L472.42,934.55 L470.12,929.61Z M482.83,966.91 L491.31,969.2 L489.77,983.65 L482.83,988.61 L477.82,982.9 L478.98,970.72Z M492.85,974.52 L497.48,967.67 L505.19,969.2 L512.13,980.61 L511.35,995.84 L504.41,999.65 L492.47,990.13Z M509.04,960.06 L516.75,954.73 L525.23,957.01 L527.54,966.91 L525.23,976.81 L517.52,979.85 L509.04,975.29 L507.89,966.91Z M516.75,925.8 L522.92,931.9 L524.46,944.07 L516.75,950.93 L512.51,947.88 L512.13,931.9Z M471.66,996.21 L482.06,990.88 L495.17,995.06 L505.19,1007.25 L505.19,1019.42 L495.17,1023.61 L482.83,1023.61 L470.5,1010.67Z M472.82,980.6 L477.82,988.6 L472.42,991.25 L470.12,986.31Z M482.83,1023.61 L491.31,1025.9 L489.77,1040.35 L482.83,1045.31 L477.82,1039.6 L478.98,1027.42Z M492.85,1031.22 L497.48,1024.37 L505.19,1025.9 L512.13,1037.31 L511.35,1052.54 L504.41,1056.35 L492.47,1046.83Z M509.04,1016.76 L516.75,1011.43 L525.23,1013.71 L527.54,1023.61 L525.23,1033.51 L517.52,1036.55 L509.04,1031.99 L507.89,1023.61Z M516.75,982.5 L522.92,988.6 L524.46,1000.77 L516.75,1007.63 L512.51,1004.58 L512.13,988.6Z M471.66,1052.91 L482.06,1047.58 L495.17,1051.76 L505.19,1063.95 L505.19,1076.12 L495.17,1080.31 L482.83,1080.31 L470.5,1067.37Z M472.82,1037.3 L477.82,1045.3 L472.42,1047.95 L470.12,1043.01Z M482.83,1080.31 L491.31,1082.6 L489.77,1097.05 L482.83,1102.01 L477.82,1096.3 L478.98,1084.12Z M492.85,1087.92 L497.48,1081.07 L505.19,1082.6 L512.13,1094.01 L511.35,1109.24 L504.41,1113.05 L492.47,1103.53Z M509.04,1073.46 L516.75,1068.13 L525.23,1070.41 L527.54,1080.31 L525.23,1090.21 L517.52,1093.25 L509.04,1088.69 L507.89,1080.31Z M516.75,1039.2 L522.92,1045.3 L524.46,1057.47 L516.75,1064.33 L512.51,1061.28 L512.13,1045.3Z M471.66,1109.61 L482.06,1104.28 L495.17,1108.46 L505.19,1120.65 L505.19,1132.82 L495.17,1137.01 L482.83,1137.01 L470.5,1124.07Z M472.82,1094 L477.82,1102 L472.42,1104.65 L470.12,1099.71Z M482.83,1137.01 L491.31,1139.3 L489.77,1153.75 L482.83,1158.71 L477.82,1153 L478.98,1140.82Z M492.85,1144.62 L497.48,1137.77 L505.19,1139.3 L512.13,1150.71 L511.35,1165.94 L504.41,1169.75 L492.47,1160.23Z M509.04,1130.16 L516.75,1124.83 L525.23,1127.11 L527.54,1137.01 L525.23,1146.91 L517.52,1149.95 L509.04,1145.39 L507.89,1137.01Z M516.75,1095.9 L522.92,1102 L524.46,1114.17 L516.75,1121.03 L512.51,1117.98 L512.13,1102Z M471.66,1166.31 L482.06,1160.98 L495.17,1165.16 L505.19,1177.35 L505.19,1189.52 L495.17,1193.71 L482.83,1193.71 L470.5,1180.77Z M472.82,1150.7 L477.82,1158.7 L472.42,1161.35 L470.12,1156.41Z M482.83,1193.71 L491.31,1196 L489.77,1210.45 L482.83,1215.41 L477.82,1209.7 L478.98,1197.52Z M492.85,1201.32 L497.48,1194.47 L505.19,1196 L512.13,1207.41 L511.35,1222.64 L504.41,1226.45 L492.47,1216.93Z M509.04,1186.86 L516.75,1181.53 L525.23,1183.81 L527.54,1193.71 L525.23,1203.61 L517.52,1206.65 L509.04,1202.09 L507.89,1193.71Z M516.75,1152.6 L522.92,1158.7 L524.46,1170.87 L516.75,1177.73 L512.51,1174.68 L512.13,1158.7Z M527.16,882.81 L537.56,877.48 L550.67,881.66 L560.69,893.85 L560.69,906.02 L550.67,910.21 L538.33,910.21 L526,897.27Z M528.32,867.2 L533.32,875.2 L527.92,877.85 L525.62,872.91Z M538.33,910.21 L546.81,912.5 L545.27,926.95 L538.33,931.91 L533.32,926.2 L534.48,914.02Z M548.35,917.82 L552.98,910.97 L560.69,912.5 L567.63,923.91 L566.85,939.14 L559.91,942.95 L547.97,933.43Z M564.54,903.36 L572.25,898.03 L580.73,900.31 L583.04,910.21 L580.73,920.11 L573.02,923.15 L564.54,918.59 L563.39,910.21Z M572.25,869.1 L578.42,875.2 L579.96,887.37 L572.25,894.23 L568.01,891.18 L567.63,875.2Z M527.16,939.51 L537.56,934.18 L550.67,938.36 L560.69,950.55 L560.69,962.72 L550.67,966.91 L538.33,966.91 L526,953.97Z M528.32,923.9 L533.32,931.9 L527.92,934.55 L525.62,929.61Z M538.33,966.91 L546.81,969.2 L545.27,983.65 L538.33,988.61 L533.32,982.9 L534.48,970.72Z M548.35,974.52 L552.98,967.67 L560.69,969.2 L567.63,980.61 L566.85,995.84 L559.91,999.65 L547.97,990.13Z M564.54,960.06 L572.25,954.73 L580.73,957.01 L583.04,966.91 L580.73,976.81 L573.02,979.85 L564.54,975.29 L563.39,966.91Z M572.25,925.8 L578.42,931.9 L579.96,944.07 L572.25,950.93 L568.01,947.88 L567.63,931.9Z M527.16,996.21 L537.56,990.88 L550.67,995.06 L560.69,1007.25 L560.69,1019.42 L550.67,1023.61 L538.33,1023.61 L526,1010.67Z M528.32,980.6 L533.32,988.6 L527.92,991.25 L525.62,986.31Z M538.33,1023.61 L546.81,1025.9 L545.27,1040.35 L538.33,1045.31 L533.32,1039.6 L534.48,1027.42Z M548.35,1031.22 L552.98,1024.37 L560.69,1025.9 L567.63,1037.31 L566.85,1052.54 L559.91,1056.35 L547.97,1046.83Z M564.54,1016.76 L572.25,1011.43 L580.73,1013.71 L583.04,1023.61 L580.73,1033.51 L573.02,1036.55 L564.54,1031.99 L563.39,1023.61Z M572.25,982.5 L578.42,988.6 L579.96,1000.77 L572.25,1007.63 L568.01,1004.58 L567.63,988.6Z M527.16,1052.91 L537.56,1047.58 L550.67,1051.76 L560.69,1063.95 L560.69,1076.12 L550.67,1080.31 L538.33,1080.31 L526,1067.37Z M528.32,1037.3 L533.32,1045.3 L527.92,1047.95 L525.62,1043.01Z M538.33,1080.31 L546.81,1082.6 L545.27,1097.05 L538.33,1102.01 L533.32,1096.3 L534.48,1084.12Z M548.35,1087.92 L552.98,1081.07 L560.69,1082.6 L567.63,1094.01 L566.85,1109.24 L559.91,1113.05 L547.97,1103.53Z M564.54,1073.46 L572.25,1068.13 L580.73,1070.41 L583.04,1080.31 L580.73,1090.21 L573.02,1093.25 L564.54,1088.69 L563.39,1080.31Z M572.25,1039.2 L578.42,1045.3 L579.96,1057.47 L572.25,1064.33 L568.01,1061.28 L567.63,1045.3Z M527.16,1109.61 L537.56,1104.28 L550.67,1108.46 L560.69,1120.65 L560.69,1132.82 L550.67,1137.01 L538.33,1137.01 L526,1124.07Z M528.32,1094 L533.32,1102 L527.92,1104.65 L525.62,1099.71Z M538.33,1137.01 L546.81,1139.3 L545.27,1153.75 L538.33,1158.71 L533.32,1153 L534.48,1140.82Z M548.35,1144.62 L552.98,1137.77 L560.69,1139.3 L567.63,1150.71 L566.85,1165.94 L559.91,1169.75 L547.97,1160.23Z M564.54,1130.16 L572.25,1124.83 L580.73,1127.11 L583.04,1137.01 L580.73,1146.91 L573.02,1149.95 L564.54,1145.39 L563.39,1137.01Z M572.25,1095.9 L578.42,1102 L579.96,1114.17 L572.25,1121.03 L568.01,1117.98 L567.63,1102Z M527.16,1166.31 L537.56,1160.98 L550.67,1165.16 L560.69,1177.35 L560.69,1189.52 L550.67,1193.71 L538.33,1193.71 L526,1180.77Z M528.32,1150.7 L533.32,1158.7 L527.92,1161.35 L525.62,1156.41Z M538.33,1193.71 L546.81,1196 L545.27,1210.45 L538.33,1215.41 L533.32,1209.7 L534.48,1197.52Z M548.35,1201.32 L552.98,1194.47 L560.69,1196 L567.63,1207.41 L566.85,1222.64 L559.91,1226.45 L547.97,1216.93Z M564.54,1186.86 L572.25,1181.53 L580.73,1183.81 L583.04,1193.71 L580.73,1203.61 L573.02,1206.65 L564.54,1202.09 L563.39,1193.71Z M572.25,1152.6 L578.42,1158.7 L579.96,1170.87 L572.25,1177.73 L568.01,1174.68 L567.63,1158.7Z M582.66,882.81 L593.06,877.48 L606.17,881.66 L616.19,893.85 L616.19,906.02 L606.17,910.21 L593.83,910.21 L581.5,897.27Z M583.82,867.2 L588.82,875.2 L583.42,877.85 L581.12,872.91Z M593.83,910.21 L602.31,912.5 L600.77,926.95 L593.83,931.91 L588.82,926.2 L589.98,914.02Z M603.85,917.82 L608.48,910.97 L616.19,912.5 L623.13,923.91 L622.35,939.14 L615.41,942.95 L603.47,933.43Z M620.04,903.36 L627.75,898.03 L636.23,900.31 L638.54,910.21 L636.23,920.11 L628.52,923.15 L620.04,918.59 L618.89,910.21Z M627.75,869.1 L633.92,875.2 L635.46,887.37 L627.75,894.23 L623.51,891.18 L623.13,875.2Z M582.66,939.51 L593.06,934.18 L606.17,938.36 L616.19,950.55 L616.19,962.72 L606.17,966.91 L593.83,966.91 L581.5,953.97Z M583.82,923.9 L588.82,931.9 L583.42,934.55 L581.12,929.61Z M593.83,966.91 L602.31,969.2 L600.77,983.65 L593.83,988.61 L588.82,982.9 L589.98,970.72Z M603.85,974.52 L608.48,967.67 L616.19,969.2 L623.13,980.61 L622.35,995.84 L615.41,999.65 L603.47,990.13Z M620.04,960.06 L627.75,954.73 L636.23,957.01 L638.54,966.91 L636.23,976.81 L628.52,979.85 L620.04,975.29 L618.89,966.91Z M627.75,925.8 L633.92,931.9 L635.46,944.07 L627.75,950.93 L623.51,947.88 L623.13,931.9Z M582.66,996.21 L593.06,990.88 L606.17,995.06 L616.19,1007.25 L616.19,1019.42 L606.17,1023.61 L593.83,1023.61 L581.5,1010.67Z M583.82,980.6 L588.82,988.6 L583.42,991.25 L581.12,986.31Z M593.83,1023.61 L602.31,1025.9 L600.77,1040.35 L593.83,1045.31 L588.82,1039.6 L589.98,1027.42Z M603.85,1031.22 L608.48,1024.37 L616.19,1025.9 L623.13,1037.31 L622.35,1052.54 L615.41,1056.35 L603.47,1046.83Z M620.04,1016.76 L627.75,1011.43 L636.23,1013.71 L638.54,1023.61 L636.23,1033.51 L628.52,1036.55 L620.04,1031.99 L618.89,1023.61Z M627.75,982.5 L633.92,988.6 L635.46,1000.77 L627.75,1007.63 L623.51,1004.58 L623.13,988.6Z M582.66,1052.91 L593.06,1047.58 L606.17,1051.76 L616.19,1063.95 L616.19,1076.12 L606.17,1080.31 L593.83,1080.31 L581.5,1067.37Z M583.82,1037.3 L588.82,1045.3 L583.42,1047.95 L581.12,1043.01Z M593.83,1080.31 L602.31,1082.6 L600.77,1097.05 L593.83,1102.01 L588.82,1096.3 L589.98,1084.12Z M603.85,1087.92 L608.48,1081.07 L616.19,1082.6 L623.13,1094.01 L622.35,1109.24 L615.41,1113.05 L603.47,1103.53Z M620.04,1073.46 L627.75,1068.13 L636.23,1070.41 L638.54,1080.31 L636.23,1090.21 L628.52,1093.25 L620.04,1088.69 L618.89,1080.31Z M627.75,1039.2 L633.92,1045.3 L635.46,1057.47 L627.75,1064.33 L623.51,1061.28 L623.13,1045.3Z M582.66,1109.61 L593.06,1104.28 L606.17,1108.46 L616.19,1120.65 L616.19,1132.82 L606.17,1137.01 L593.83,1137.01 L581.5,1124.07Z M583.82,1094 L588.82,1102 L583.42,1104.65 L581.12,1099.71Z M593.83,1137.01 L602.31,1139.3 L600.77,1153.75 L593.83,1158.71 L588.82,1153 L589.98,1140.82Z M603.85,1144.62 L608.48,1137.77 L616.19,1139.3 L623.13,1150.71 L622.35,1165.94 L615.41,1169.75 L603.47,1160.23Z M620.04,1130.16 L627.75,1124.83 L636.23,1127.11 L638.54,1137.01 L636.23,1146.91 L628.52,1149.95 L620.04,1145.39 L618.89,1137.01Z M627.75,1095.9 L633.92,1102 L635.46,1114.17 L627.75,1121.03 L623.51,1117.98 L623.13,1102Z M582.66,1166.31 L593.06,1160.98 L606.17,1165.16 L616.19,1177.35 L616.19,1189.52 L606.17,1193.71 L593.83,1193.71 L581.5,1180.77Z M583.82,1150.7 L588.82,1158.7 L583.42,1161.35 L581.12,1156.41Z M593.83,1193.71 L602.31,1196 L600.77,1210.45 L593.83,1215.41 L588.82,1209.7 L589.98,1197.52Z M603.85,1201.32 L608.48,1194.47 L616.19,1196 L623.13,1207.41 L622.35,1222.64 L615.41,1226.45 L603.47,1216.93Z M620.04,1186.86 L627.75,1181.53 L636.23,1183.81 L638.54,1193.71 L636.23,1203.61 L628.52,1206.65 L620.04,1202.09 L618.89,1193.71Z M627.75,1152.6 L633.92,1158.7 L635.46,1170.87 L627.75,1177.73 L623.51,1174.68 L623.13,1158.7Z M638.16,882.81 L648.56,877.48 L661.67,881.66 L671.69,893.85 L671.69,906.02 L661.67,910.21 L649.33,910.21 L637,897.27Z M639.32,867.2 L644.32,875.2 L638.92,877.85 L636.62,872.91Z M649.33,910.21 L657.81,912.5 L656.27,926.95 L649.33,931.91 L644.32,926.2 L645.48,914.02Z M659.35,917.82 L663.98,910.97 L671.69,912.5 L678.63,923.91 L677.85,939.14 L670.91,942.95 L658.97,933.43Z M675.54,903.36 L683.25,898.03 L691.73,900.31 L694.04,910.21 L691.73,920.11 L684.02,923.15 L675.54,918.59 L674.39,910.21Z M683.25,869.1 L689.42,875.2 L690.96,887.37 L683.25,894.23 L679.01,891.18 L678.63,875.2Z M638.16,939.51 L648.56,934.18 L661.67,938.36 L671.69,950.55 L671.69,962.72 L661.67,966.91 L649.33,966.91 L637,953.97Z M639.32,923.9 L644.32,931.9 L638.92,934.55 L636.62,929.61Z M649.33,966.91 L657.81,969.2 L656.27,983.65 L649.33,988.61 L644.32,982.9 L645.48,970.72Z M659.35,974.52 L663.98,967.67 L671.69,969.2 L678.63,980.61 L677.85,995.84 L670.91,999.65 L658.97,990.13Z M675.54,960.06 L683.25,954.73 L691.73,957.01 L694.04,966.91 L691.73,976.81 L684.02,979.85 L675.54,975.29 L674.39,966.91Z M683.25,925.8 L689.42,931.9 L690.96,944.07 L683.25,950.93 L679.01,947.88 L678.63,931.9Z M638.16,996.21 L648.56,990.88 L661.67,995.06 L671.69,1007.25 L671.69,1019.42 L661.67,1023.61 L649.33,1023.61 L637,1010.67Z M639.32,980.6 L644.32,988.6 L638.92,991.25 L636.62,986.31Z M649.33,1023.61 L657.81,1025.9 L656.27,1040.35 L649.33,1045.31 L644.32,1039.6 L645.48,1027.42Z M659.35,1031.22 L663.98,1024.37 L671.69,1025.9 L678.63,1037.31 L677.85,1052.54 L670.91,1056.35 L658.97,1046.83Z M675.54,1016.76 L683.25,1011.43 L691.73,1013.71 L694.04,1023.61 L691.73,1033.51 L684.02,1036.55 L675.54,1031.99 L674.39,1023.61Z M683.25,982.5 L689.42,988.6 L690.96,1000.77 L683.25,1007.63 L679.01,1004.58 L678.63,988.6Z M638.16,1052.91 L648.56,1047.58 L661.67,1051.76 L671.69,1063.95 L671.69,1076.12 L661.67,1080.31 L649.33,1080.31 L637,1067.37Z M639.32,1037.3 L644.32,1045.3 L638.92,1047.95 L636.62,1043.01Z M649.33,1080.31 L657.81,1082.6 L656.27,1097.05 L649.33,1102.01 L644.32,1096.3 L645.48,1084.12Z M659.35,1087.92 L663.98,1081.07 L671.69,1082.6 L678.63,1094.01 L677.85,1109.24 L670.91,1113.05 L658.97,1103.53Z M675.54,1073.46 L683.25,1068.13 L691.73,1070.41 L694.04,1080.31 L691.73,1090.21 L684.02,1093.25 L675.54,1088.69 L674.39,1080.31Z M683.25,1039.2 L689.42,1045.3 L690.96,1057.47 L683.25,1064.33 L679.01,1061.28 L678.63,1045.3Z M638.16,1109.61 L648.56,1104.28 L661.67,1108.46 L671.69,1120.65 L671.69,1132.82 L661.67,1137.01 L649.33,1137.01 L637,1124.07Z M639.32,1094 L644.32,1102 L638.92,1104.65 L636.62,1099.71Z M649.33,1137.01 L657.81,1139.3 L656.27,1153.75 L649.33,1158.71 L644.32,1153 L645.48,1140.82Z M659.35,1144.62 L663.98,1137.77 L671.69,1139.3 L678.63,1150.71 L677.85,1165.94 L670.91,1169.75 L658.97,1160.23Z M675.54,1130.16 L683.25,1124.83 L691.73,1127.11 L694.04,1137.01 L691.73,1146.91 L684.02,1149.95 L675.54,1145.39 L674.39,1137.01Z M683.25,1095.9 L689.42,1102 L690.96,1114.17 L683.25,1121.03 L679.01,1117.98 L678.63,1102Z M638.16,1166.31 L648.56,1160.98 L661.67,1165.16 L671.69,1177.35 L671.69,1189.52 L661.67,1193.71 L649.33,1193.71 L637,1180.77Z M639.32,1150.7 L644.32,1158.7 L638.92,1161.35 L636.62,1156.41Z M649.33,1193.71 L657.81,1196 L656.27,1210.45 L649.33,1215.41 L644.32,1209.7 L645.48,1197.52Z M659.35,1201.32 L663.98,1194.47 L671.69,1196 L678.63,1207.41 L677.85,1222.64 L670.91,1226.45 L658.97,1216.93Z M675.54,1186.86 L683.25,1181.53 L691.73,1183.81 L694.04,1193.71 L691.73,1203.61 L684.02,1206.65 L675.54,1202.09 L674.39,1193.71Z M683.25,1152.6 L689.42,1158.7 L690.96,1170.87 L683.25,1177.73 L679.01,1174.68 L678.63,1158.7Z M693.66,882.81 L704.06,877.48 L717.17,881.66 L727.19,893.85 L727.19,906.02 L717.17,910.21 L704.83,910.21 L692.5,897.27Z M694.82,867.2 L699.82,875.2 L694.42,877.85 L692.12,872.91Z M704.83,910.21 L713.31,912.5 L711.77,926.95 L704.83,931.91 L699.82,926.2 L700.98,914.02Z M714.85,917.82 L719.48,910.97 L727.19,912.5 L734.13,923.91 L733.35,939.14 L726.41,942.95 L714.47,933.43Z M731.04,903.36 L738.75,898.03 L747.23,900.31 L749.54,910.21 L747.23,920.11 L739.52,923.15 L731.04,918.59 L729.89,910.21Z M738.75,869.1 L744.92,875.2 L746.46,887.37 L738.75,894.23 L734.51,891.18 L734.13,875.2Z M693.66,939.51 L704.06,934.18 L717.17,938.36 L727.19,950.55 L727.19,962.72 L717.17,966.91 L704.83,966.91 L692.5,953.97Z M694.82,923.9 L699.82,931.9 L694.42,934.55 L692.12,929.61Z M704.83,966.91 L713.31,969.2 L711.77,983.65 L704.83,988.61 L699.82,982.9 L700.98,970.72Z M714.85,974.52 L719.48,967.67 L727.19,969.2 L734.13,980.61 L733.35,995.84 L726.41,999.65 L714.47,990.13Z M731.04,960.06 L738.75,954.73 L747.23,957.01 L749.54,966.91 L747.23,976.81 L739.52,979.85 L731.04,975.29 L729.89,966.91Z M738.75,925.8 L744.92,931.9 L746.46,944.07 L738.75,950.93 L734.51,947.88 L734.13,931.9Z M693.66,996.21 L704.06,990.88 L717.17,995.06 L727.19,1007.25 L727.19,1019.42 L717.17,1023.61 L704.83,1023.61 L692.5,1010.67Z M694.82,980.6 L699.82,988.6 L694.42,991.25 L692.12,986.31Z M704.83,1023.61 L713.31,1025.9 L711.77,1040.35 L704.83,1045.31 L699.82,1039.6 L700.98,1027.42Z M714.85,1031.22 L719.48,1024.37 L727.19,1025.9 L734.13,1037.31 L733.35,1052.54 L726.41,1056.35 L714.47,1046.83Z M731.04,1016.76 L738.75,1011.43 L747.23,1013.71 L749.54,1023.61 L747.23,1033.51 L739.52,1036.55 L731.04,1031.99 L729.89,1023.61Z M738.75,982.5 L744.92,988.6 L746.46,1000.77 L738.75,1007.63 L734.51,1004.58 L734.13,988.6Z M693.66,1052.91 L704.06,1047.58 L717.17,1051.76 L727.19,1063.95 L727.19,1076.12 L717.17,1080.31 L704.83,1080.31 L692.5,1067.37Z M694.82,1037.3 L699.82,1045.3 L694.42,1047.95 L692.12,1043.01Z M704.83,1080.31 L713.31,1082.6 L711.77,1097.05 L704.83,1102.01 L699.82,1096.3 L700.98,1084.12Z M714.85,1087.92 L719.48,1081.07 L727.19,1082.6 L734.13,1094.01 L733.35,1109.24 L726.41,1113.05 L714.47,1103.53Z M731.04,1073.46 L738.75,1068.13 L747.23,1070.41 L749.54,1080.31 L747.23,1090.21 L739.52,1093.25 L731.04,1088.69 L729.89,1080.31Z M738.75,1039.2 L744.92,1045.3 L746.46,1057.47 L738.75,1064.33 L734.51,1061.28 L734.13,1045.3Z M693.66,1109.61 L704.06,1104.28 L717.17,1108.46 L727.19,1120.65 L727.19,1132.82 L717.17,1137.01 L704.83,1137.01 L692.5,1124.07Z M694.82,1094 L699.82,1102 L694.42,1104.65 L692.12,1099.71Z M704.83,1137.01 L713.31,1139.3 L711.77,1153.75 L704.83,1158.71 L699.82,1153 L700.98,1140.82Z M714.85,1144.62 L719.48,1137.77 L727.19,1139.3 L734.13,1150.71 L733.35,1165.94 L726.41,1169.75 L714.47,1160.23Z M731.04,1130.16 L738.75,1124.83 L747.23,1127.11 L749.54,1137.01 L747.23,1146.91 L739.52,1149.95 L731.04,1145.39 L729.89,1137.01Z M738.75,1095.9 L744.92,1102 L746.46,1114.17 L738.75,1121.03 L734.51,1117.98 L734.13,1102Z M693.66,1166.31 L704.06,1160.98 L717.17,1165.16 L727.19,1177.35 L727.19,1189.52 L717.17,1193.71 L704.83,1193.71 L692.5,1180.77Z M694.82,1150.7 L699.82,1158.7 L694.42,1161.35 L692.12,1156.41Z M704.83,1193.71 L713.31,1196 L711.77,1210.45 L704.83,1215.41 L699.82,1209.7 L700.98,1197.52Z M714.85,1201.32 L719.48,1194.47 L727.19,1196 L734.13,1207.41 L733.35,1222.64 L726.41,1226.45 L714.47,1216.93Z M731.04,1186.86 L738.75,1181.53 L747.23,1183.81 L749.54,1193.71 L747.23,1203.61 L739.52,1206.65 L731.04,1202.09 L729.89,1193.71Z M738.75,1152.6 L744.92,1158.7 L746.46,1170.87 L738.75,1177.73 L734.51,1174.68 L734.13,1158.7Z"/>
</g>
<g fill="none" stroke="#2a2a2a" stroke-width="0.9">
<path d="M444,989.2 H693.4"/><path d="M693.4,989.2 V1122.5" stroke-dasharray="9,4" stroke="#777"/>
<ellipse cx="514" cy="1013.5" rx="7" ry="3.2"/><ellipse cx="524" cy="1015" rx="6" ry="2.8"/><ellipse cx="575" cy="1028.5" rx="6.5" ry="2.5"/>
<path d="M527.2,1006.7 L537.6,1001.4 L550.7,1005.6 L560.7,1017.7 L560.7,1029.9 L550.7,1034.1 L538.3,1034.1 L526.0,1021.2Z M582.7,1006.7 L593.1,1001.4 L606.2,1005.6 L616.2,1017.7 L616.2,1029.9 L606.2,1034.1 L593.8,1034.1 L581.5,1021.2Z"/>
</g>
</svg>
</body></html>
